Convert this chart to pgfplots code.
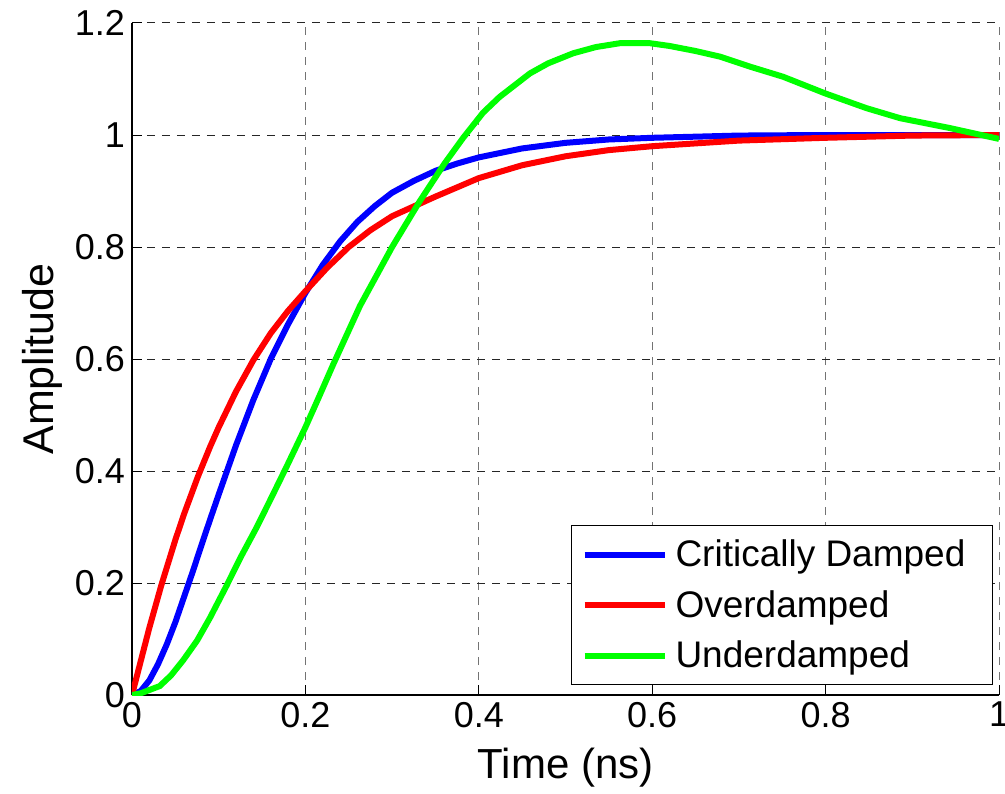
\documentclass[border=0pt]{standalone}
\usepackage{pgfplots}
\pgfplotsset{compat=1.18}
\usepackage{fontspec}
\setmainfont{Liberation Sans}
\definecolor{mblue}{RGB}{0,0,255}
\definecolor{mred}{RGB}{255,0,0}
\definecolor{mgreen}{RGB}{0,255,0}
\begin{document}
\begin{tikzpicture}
\begin{axis}[
  name=ax,
  scale only axis,
  width=433.5pt, height=336pt,
  xmin=0, xmax=1, ymin=0, ymax=1.2,
  xtick={0,0.2,0.4,0.6,0.8,1},
  ytick={0,0.2,0.4,0.6,0.8,1,1.2},
  xticklabels={0,0.2,0.4,0.6,0.8,1},
  yticklabels={0,0.2,0.4,0.6,0.8,1,1.2},
  axis x line*=bottom, axis y line*=left,
  axis line style={-, black, line width=0.6pt},
  tick align=inside,
  major tick length=5pt,
  tick style={black, line width=0.5pt},
  grid=major,
  major x grid style={black!55, dash pattern=on 4pt off 3.5pt, line width=0.5pt},
  major y grid style={black!85, dash pattern=on 4pt off 3.5pt, line width=0.5pt},
  ticklabel style={font=\fontsize{18}{20}\selectfont},
  /pgf/number format/assume math mode=true,
  xlabel={Time (ns)},
  ylabel={Amplitude},
  xlabel style={font=\fontsize{21}{24}\selectfont, at={(axis description cs:0.5,-0.1235)}, anchor=base},
  ylabel style={font=\fontsize{21.5}{24}\selectfont, at={(axis description cs:-0.09,0.5)}, anchor=base, rotate=0},
  legend style={at={(0.993,0.015)}, anchor=south east, draw=black, line width=0.5pt,
    font=\fontsize{18.5}{21}\selectfont, inner xsep=5pt, inner ysep=5pt, row sep=6.25pt},
  legend cell align=left,
  legend image code/.code={\draw[#1, line width=3pt] (0pt,0pt) -- (40pt,0pt); \path (42pt,0pt);},
]
\addplot[mblue, line width=3pt] coordinates {
(0,0) (0.01,0.007) (0.02,0.026) (0.03,0.055) (0.04,0.090) (0.05,0.130)
(0.06,0.175) (0.07,0.220) (0.08,0.267) (0.09,0.313) (0.1,0.358) (0.12,0.446)
(0.14,0.527) (0.16,0.600) (0.18,0.662) (0.2,0.718) (0.22,0.768) (0.24,0.810)
(0.26,0.845) (0.28,0.873) (0.3,0.897) (0.325,0.918) (0.35,0.936) (0.375,0.949)
(0.4,0.960) (0.45,0.976) (0.5,0.986) (0.55,0.992) (0.6,0.995) (0.65,0.997)
(0.7,0.999) (0.8,1.0) (0.9,1.0) (1.0,1.0)};
\addlegendentry{Critically Damped\rule{6.5pt}{0pt}}
\addplot[mred, line width=3pt] coordinates {
(0,0) (0.01,0.06) (0.02,0.12) (0.034,0.197) (0.05,0.277) (0.06,0.323)
(0.076,0.39) (0.09,0.443) (0.1,0.478) (0.12,0.542) (0.14,0.598) (0.16,0.646)
(0.18,0.686) (0.2,0.721) (0.225,0.763) (0.25,0.8) (0.275,0.83) (0.3,0.855)
(0.35,0.89) (0.4,0.923) (0.45,0.946) (0.5,0.962) (0.55,0.973) (0.6,0.98)
(0.65,0.985) (0.7,0.99) (0.8,0.995) (0.9,0.999) (1.0,1.0)};
\addlegendentry{Overdamped}
\addplot[mgreen, line width=3pt] coordinates {
(0,0) (0.01,0.003) (0.032,0.016) (0.045,0.035) (0.059,0.062) (0.075,0.097)
(0.09,0.138) (0.109,0.195) (0.125,0.245) (0.144,0.3) (0.16,0.35) (0.179,0.41)
(0.2,0.478) (0.215,0.53) (0.232,0.59) (0.263,0.695) (0.3,0.80) (0.332,0.882)
(0.36,0.948) (0.382,0.995) (0.405,1.04) (0.424,1.068) (0.444,1.092) (0.459,1.110)
(0.48,1.128) (0.509,1.146) (0.535,1.157) (0.563,1.164) (0.597,1.164) (0.62,1.159)
(0.65,1.150) (0.678,1.140) (0.713,1.122) (0.751,1.104) (0.8,1.074)
(0.847,1.048) (0.886,1.030) (0.943,1.0125) (1.0,0.993)};
\addlegendentry{Underdamped}
\end{axis}
\pgfresetboundingbox
\path ([shift={(-66pt,-49pt)}]ax.south west) rectangle ([shift={(3pt,11.5pt)}]ax.north east);
\end{tikzpicture}
\end{document}
